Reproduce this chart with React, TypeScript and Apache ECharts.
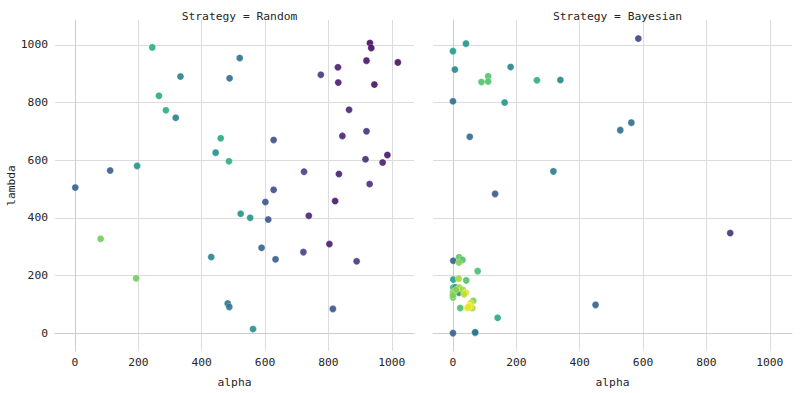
import React, { useEffect, useRef } from "react";
import * as echarts from "echarts";

// Random strategy trials
const randomAlpha = [244, 520, 333, 488, 265, 287, 318, 460, 444, 486, 196, 111, 1, 627, 723, 627, 776, 830, 831, 920, 931, 935, 1019, 945, 865, 844, 920, 986, 971, 917, 833, 930, 821, 601, 523, 553, 610, 738, 81, 589, 430, 633, 721, 803, 889, 193, 482, 487, 814, 562];
const randomLambda = [991, 954, 890, 884, 823, 773, 747, 676, 626, 596, 580, 564, 505, 670, 560, 497, 896, 922, 869, 945, 1006, 989, 939, 862, 775, 684, 700, 618, 592, 603, 552, 517, 458, 455, 414, 400, 394, 407, 327, 296, 264, 256, 281, 309, 249, 190, 103, 91, 84, 14];
const randomScore = [0.62, 0.38, 0.44, 0.36, 0.6, 0.62, 0.44, 0.6, 0.5, 0.62, 0.52, 0.3, 0.3, 0.24, 0.2, 0.24, 0.16, 0.08, 0.08, 0.05, 0.03, 0.03, 0.05, 0.05, 0.1, 0.1, 0.14, 0.05, 0.08, 0.12, 0.08, 0.14, 0.06, 0.26, 0.52, 0.52, 0.26, 0.1, 0.78, 0.32, 0.46, 0.3, 0.2, 0.08, 0.16, 0.78, 0.38, 0.38, 0.26, 0.5];

// Bayesian strategy trials
const bayesAlpha = [41, 0, 6, 182, 111, 90, 111, 265, 339, 0, 163, 585, 563, 528, 53, 317, 133, 875, 450, 141, 0, 70, 70, 1, 19, 30, 19, 78, 1, 18, 42, 1, 8, 19, 20, 31, 41, 0, 0, 0, 64, 56, 51, 45, 61, 23, 54, 48, 10, 35];
const bayesLambda = [1004, 978, 914, 923, 891, 871, 873, 877, 878, 804, 800, 1022, 730, 704, 681, 561, 483, 347, 98, 53, 0, 1, 3, 251, 263, 254, 245, 215, 186, 189, 183, 158, 159, 140, 158, 150, 140, 141, 124, 131, 112, 104, 96, 87, 87, 87, 93, 90, 150, 135];
const bayesScore = [0.52, 0.55, 0.46, 0.46, 0.72, 0.72, 0.72, 0.62, 0.46, 0.36, 0.52, 0.2, 0.36, 0.36, 0.36, 0.42, 0.28, 0.14, 0.3, 0.6, 0.3, 0.4, 0.4, 0.3, 0.74, 0.72, 0.8, 0.7, 0.56, 0.86, 0.72, 0.66, 0.55, 0.46, 0.86, 0.86, 0.95, 0.8, 0.76, 0.8, 0.8, 0.93, 1.0, 0.97, 0.86, 0.7, 0.98, 0.96, 0.82, 0.9];

const panelTitles = ["Strategy = Random", "Strategy = Bayesian"];
const xName = "alpha";
const yName = "lambda";

const viridis = ["#440154", "#482878", "#3e4989", "#31688e", "#26828e", "#1f9e89", "#35b779", "#6ece58", "#b5de2b", "#fde725"];

const FONT = "DejaVu Sans Mono";
const FS = 11.3;
const TEXT = "#262626";
const GRIDC = "#dcdcdc";
const SPINE = "#cccccc";

export default function App() {
  const ref = useRef<HTMLDivElement>(null);
  useEffect(() => {
    if (!ref.current) return;
    const chart = echarts.init(ref.current, undefined, { renderer: "svg" });
    const toData = (a: number[], l: number[], s: number[]) => a.map((v, i) => [v, l[i], s[i]]);
    const fmt = (v: number) => String(v);
    const grids = [
      { left: 55, top: 20, width: 359, height: 333 },
      { left: 433, top: 20, width: 359, height: 333 },
    ];
    const xAxis = [0, 1].map((i) => ({
      type: "value",
      gridIndex: i,
      min: -63,
      max: 1070,
      name: xName,
      nameLocation: "middle",
      nameGap: 26,
      nameTextStyle: { fontFamily: FONT, fontSize: FS, color: TEXT },
      axisLine: { show: true, lineStyle: { color: SPINE, width: 1 } },
      axisTick: { show: false },
      axisLabel: { fontFamily: FONT, fontSize: FS, color: TEXT, margin: 6, showMinLabel: false, showMaxLabel: false, formatter: fmt },
      splitLine: { show: true, showMinLine: false, showMaxLine: false, lineStyle: { color: GRIDC, width: 1 } },
    }));
    const yAxis = [0, 1].map((i) => ({
      type: "value",
      gridIndex: i,
      min: -62,
      max: 1086,
      name: i === 0 ? yName : "",
      nameLocation: "middle",
      nameGap: 37,
      nameRotate: 90,
      nameTextStyle: { fontFamily: FONT, fontSize: FS, color: TEXT },
      axisLine: { show: true, lineStyle: { color: SPINE, width: 1 } },
      axisTick: { show: false },
      axisLabel: { show: i === 0, fontFamily: FONT, fontSize: FS, color: TEXT, margin: 7, showMinLabel: false, showMaxLabel: false, formatter: fmt },
      splitLine: { show: true, showMinLine: false, showMaxLine: false, lineStyle: { color: GRIDC, width: 1 } },
    }));
    const itemStyle = { opacity: 0.9, borderColor: "rgba(255,255,255,0.5)", borderWidth: 0.6 };
    chart.setOption({
      animation: false,
      backgroundColor: "#ffffff",
      title: panelTitles.map((t, i) => ({
        text: t,
        left: grids[i].left + grids[i].width / 2,
        top: 6,
        textAlign: "center",
        textStyle: { fontFamily: FONT, fontSize: FS, fontWeight: "normal", color: TEXT },
      })),
      grid: grids,
      xAxis,
      yAxis,
      visualMap: {
        show: false,
        type: "continuous",
        min: 0,
        max: 1,
        dimension: 2,
        seriesIndex: [0, 1],
        inRange: { color: viridis },
      },
      series: [
        {
          type: "scatter",
          xAxisIndex: 0,
          yAxisIndex: 0,
          symbolSize: 7,
          itemStyle,
          data: toData(randomAlpha, randomLambda, randomScore),
        },
        {
          type: "scatter",
          xAxisIndex: 1,
          yAxisIndex: 1,
          symbolSize: 7,
          itemStyle,
          data: toData(bayesAlpha, bayesLambda, bayesScore),
        },
      ],
    });
    return () => chart.dispose();
  }, []);
  return (
    <div
      ref={ref}
      style={{ position: "fixed", left: 0, top: 0, width: 800, height: 393, background: "#fff" }}
    />
  );
}
